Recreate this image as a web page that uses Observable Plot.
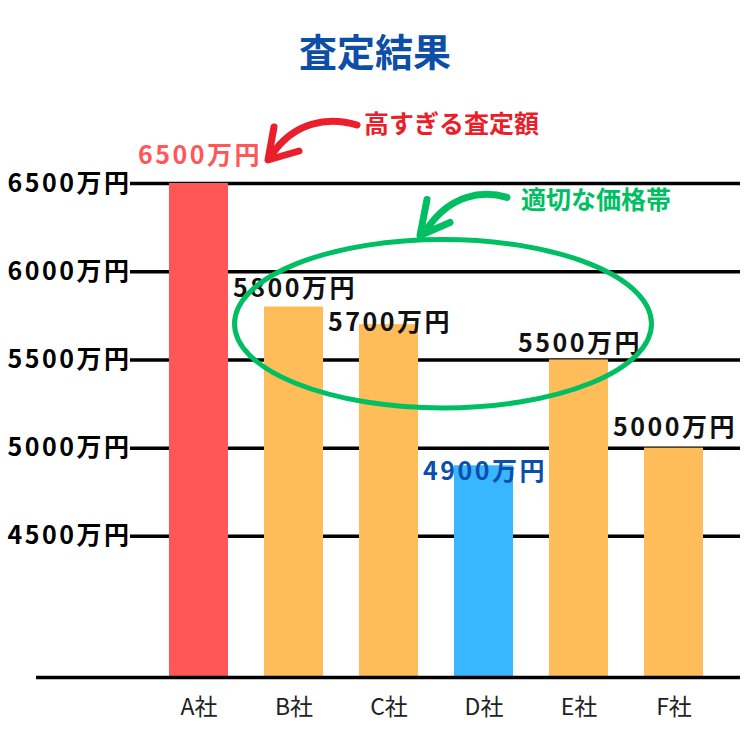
<!DOCTYPE html>
<html><head><meta charset="utf-8">
<script src="https://cdn.jsdelivr.net/npm/d3@7"></script>
<script src="https://cdn.jsdelivr.net/npm/@observablehq/plot@0.6"></script>
<style>
body{margin:0;background:#fff;}
#wrap{width:750px;height:750px;position:relative;overflow:hidden;background:#fff;font-family:"Noto Sans CJK JP",sans-serif;}
#title{position:absolute;left:0;top:27px;width:750px;text-align:center;font-size:38px;font-weight:700;color:#0d4ea6;line-height:46px;}
#chart{position:absolute;left:0;top:90px;}
</style></head><body>
<div id="wrap"><div id="title">査定結果</div><div id="chart"></div></div>
<script>
// ---- data ----
const companies = ["A社","B社","C社","D社","E社","F社"];
const values = [6500, 5800, 5700, 4900, 5500, 5000];
const barGroup = ["high","mid","mid","low","mid","mid"];
const tickValues = [4500, 5000, 5500, 6000, 6500];
const yFloor = 3700;
const unit = "万円";
const notes = ["高すぎる査定額", "適切な価格帯"];
const bandValues = [5225, 6180]; // value range circled by the ellipse

// ---- style ----
const barFill = {high:"#ff5757", mid:"#ffbd59", low:"#38b6ff"};
const labelFill = {high:"#ff5757", mid:"#111111", low:"#0b4fad"};
const labelDy = [-28, -18, -2, 6, -16, -20];
const font = '"Noto Sans CJK JP", sans-serif';

const data = companies.map((c, i) => ({company: c, value: values[i], group: barGroup[i]}));

const labelMarks = data.map((d, i) => Plot.text([d], {
  x: "company", y: "value", text: v => v.value + unit,
  dy: labelDy[i], dx: 1, fontSize: 25, fontWeight: 700,
  fill: labelFill[d.group]
}));

const plot = Plot.plot({
  width: 750, height: 660,
  marginLeft: 130, marginRight: 10, marginTop: 0, marginBottom: 0,
  style: {fontFamily: font, background: "transparent", overflow: "visible"},
  x: {domain: companies, range: [148.7, 722.3], paddingInner: 0.383, paddingOuter: 0.19, axis: null},
  y: {domain: [yFloor, 6500], range: [587, 93], axis: null},
  color: {type: "identity"},
  marks: [
    Plot.ruleY(tickValues, {stroke: "#000", strokeWidth: 3.5}),
    Plot.text(tickValues, {y: d => d, frameAnchor: "left", textAnchor: "end", dx: 1,
      text: d => d + unit, fontSize: 25, fontWeight: 700, fill: "#000"}),
    Plot.barY(data, {x: "company", y1: () => yFloor, y2: "value", fill: d => barFill[d.group]}),
    Plot.ruleY([yFloor], {stroke: "#000", strokeWidth: 3.5, insetLeft: -94}),
    Plot.text(data, {x: "company", y: () => yFloor, text: "company", dy: 30,
      fontSize: 23, fontWeight: 400, fill: "#222"}),
    ...labelMarks
  ]
});
document.getElementById("chart").appendChild(plot);
const svg = d3.select(plot);
// widen the numeric labels a little (the reference font has wider digits)
svg.selectAll('g[font-weight="700"]').attr("letter-spacing", 2.5);

// ---- annotations anchored on the scales ----
const xs = plot.scale("x"), ys = plot.scale("y");
const bw = xs.bandwidth;
const xc = c => xs.apply(c) + bw / 2;

// ellipse around B..E
const xB = xc("B社"), xE = xc("E社");
const cx = (xB + xE) / 2 + 7, rx = (xE - xB) / 2 + 66;
const yTop = ys.apply(bandValues[1]), yBot = ys.apply(bandValues[0]);
const cy = (yTop + yBot) / 2, ry = (yBot - yTop) / 2;
const green = "#00bf63", red = "#ea1f2b";
svg.insert("ellipse", "g:last-of-type")
  .attr("cx", cx).attr("cy", cy).attr("rx", rx).attr("ry", ry)
  .attr("fill", "none").attr("stroke", green).attr("stroke-width", 5);

function arrow(tx, ty, color, shaft, head) {
  const g = svg.append("g").attr("transform", `translate(${tx},${ty})`)
    .attr("fill", "none").attr("stroke", color).attr("stroke-linecap", "round").attr("stroke-linejoin", "round");
  g.append("path").attr("d", shaft).attr("stroke-width", 7);
  g.append("path").attr("d", head).attr("stroke-width", 7);
}
// red arrow pointing at A's value
const xA = xs.apply("A社") + bw;
const rTipX = xA + 40, rTipY = ys.apply(6500) - 23;
arrow(rTipX, rTipY, red, "M89,-35 C60,-44 25,-38 3,-4", "M6,-33 L0,0 L31,-9");
svg.append("text").attr("x", rTipX + 96).attr("y", rTipY - 36).attr("dy", "0.35em")
  .attr("text-anchor", "start")
  .attr("font-size", 25).attr("font-weight", 700).attr("fill", red).attr("font-family", font)
  .text(notes[0]);
// green arrow pointing at the ellipse
const gTipX = cx - 23, gTipY = yTop - 4;
arrow(gTipX, gTipY, green, "M87,-38 C62,-46 30,-40 8,-8", "M7,-36 L0,0 L30,-13");
svg.append("text").attr("x", gTipX + 101).attr("y", gTipY - 35).attr("dy", "0.35em")
  .attr("text-anchor", "start")
  .attr("font-size", 25).attr("font-weight", 700).attr("fill", green).attr("font-family", font)
  .text(notes[1]);
</script>
</body></html>
